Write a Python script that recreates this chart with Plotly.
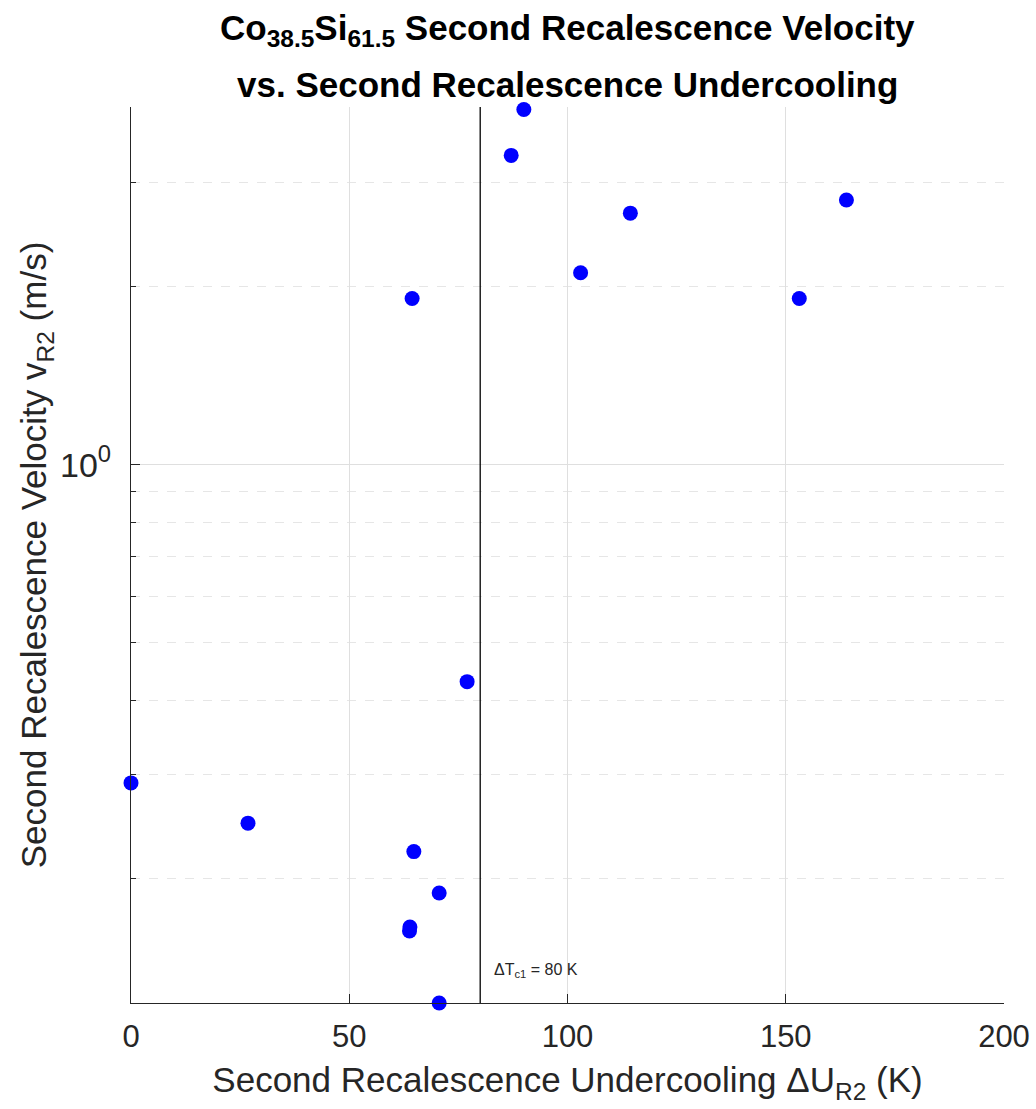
import numpy as np
import plotly.graph_objects as go

# Data
undercooling_K = [0.0, 26.8, 63.8, 63.9, 64.8, 70.6, 70.6, 77.0, 64.4, 87.1, 90.0, 103.0, 114.4, 153.1, 163.9]
velocity_ms = [0.290, 0.248, 0.163, 0.1655, 0.222, 0.189, 0.1232, 0.430, 1.909, 3.33, 3.98, 2.11, 2.66, 1.909, 2.80]

x_ticks = [0, 50, 100, 150, 200]
y_major_ticks = [1]
y_major_text = ["10<sup>0</sup>"]
y_minor_ticks = [0.2, 0.3, 0.4, 0.5, 0.6, 0.7, 0.8, 0.9, 2, 3]
dTc1 = 80

W, H = 1036, 1109
L, R, T, B = 131, 32, 107, 106
ph = H - T - B

def py(p):
    return 1 + (T - p) / ph

fig = go.Figure()
fig.add_trace(go.Scatter(
    x=undercooling_K, y=velocity_ms, mode="markers",
    marker=dict(color="rgb(0,0,255)", size=15, line=dict(width=0)),
    showlegend=False, cliponaxis=False,
))

fig.add_shape(type="line", xref="x", yref="paper", x0=dTc1, x1=dTc1, y0=0, y1=1,
              line=dict(color="black", width=1.3), layer="above")

fnt = "Liberation Sans, Arial, sans-serif"
fig.add_annotation(text="<b>Co<sub>38.5</sub>Si<sub>61.5</sub> Second Recalescence Velocity</b>",
                   xref="paper", yref="paper", x=0.5, y=py(30), xanchor="center", yanchor="middle",
                   showarrow=False, font=dict(family=fnt, size=35, color="black"))
fig.add_annotation(text="<b>vs. Second Recalescence Undercooling</b>",
                   xref="paper", yref="paper", x=0.5, y=py(84), xanchor="center", yanchor="middle",
                   showarrow=False, font=dict(family=fnt, size=35, color="black"))
fig.add_annotation(text="ΔT<sub>c1</sub> = 80 K",
                   xref="x", yref="paper", x=dTc1 + 2.7, y=py(970), xanchor="left", yanchor="middle",
                   showarrow=False, font=dict(family="Liberation Sans", size=16, color="#262626"))

fig.update_layout(
    width=W, height=H,
    margin=dict(l=L, r=R, t=T, b=B, pad=0),
    paper_bgcolor="white", plot_bgcolor="white",
    font=dict(family=fnt, color="#262626"),
)

fig.update_xaxes(
    range=[0, 200], tickvals=x_ticks, ticktext=[str(v) for v in x_ticks],
    showline=True, linecolor="#262626", linewidth=1.2, mirror=False,
    ticks="inside", ticklen=9, tickcolor="#262626", tickwidth=1,
    showgrid=True, gridcolor="rgb(223,223,223)", gridwidth=1, zeroline=False,
    tickfont=dict(size=31, color="#262626"), ticklabelstandoff=6,
    automargin=False,
    title=dict(text="Second Recalescence Undercooling ΔU<sub>R2</sub> (K)",
               font=dict(size=35, color="#262626"), standoff=14),
)

fig.update_yaxes(
    type="log", range=[np.log10(0.1232), np.log10(4.02)],
    tickvals=y_major_ticks, ticktext=y_major_text,
    showline=True, linecolor="#262626", linewidth=1.2, mirror=False,
    ticks="inside", ticklen=9, tickcolor="#262626", tickwidth=1,
    showgrid=True, gridcolor="rgb(223,223,223)", gridwidth=1, zeroline=False,
    tickfont=dict(size=34, color="#262626"), ticklabelstandoff=12,
    automargin=False,
    minor=dict(tickmode="array", tickvals=y_minor_ticks, ticks="inside", ticklen=5,
               tickcolor="#262626", showgrid=True, gridcolor="rgb(230,230,230)",
               griddash="dash", gridwidth=1),
    title=dict(text="Second Recalescence Velocity v<sub>R2</sub> (m/s)",
               font=dict(size=35, color="#262626"), standoff=2),
)

fig.write_html("out.html")
